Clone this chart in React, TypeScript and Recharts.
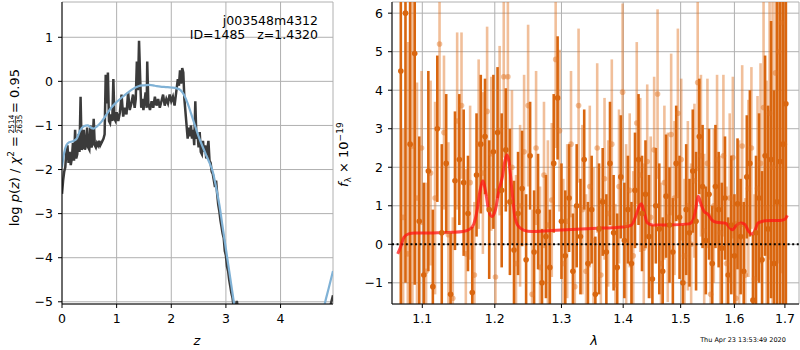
import React from "react"
import {
  ComposedChart,
  Line,
  Scatter,
  ErrorBar,
  XAxis,
  YAxis,
  CartesianGrid,
  ReferenceLine,
} from "recharts"

const FONT = "DejaVu Sans, Verdana, sans-serif"

// left panel: redshift grid
const zTicks = [0, 1, 2, 3, 4]
const pzTicks = [-5, -4, -3, -2, -1, 0, 1]

// log p(z), noisy fit
const pzRaw: [number, number][] = [
  [0.0, -2.55], [0.02, -2.25], [0.04, -2.05], [0.06, -1.95], [0.08, -1.6], [0.1, -1.45],
  [0.12, -1.85], [0.14, -1.6], [0.16, -1.9], [0.18, -1.75], [0.2, -1.4], [0.22, -1.8],
  [0.24, -1.1], [0.26, -1.75], [0.28, -1.65], [0.3, -1.2], [0.32, -1.6], [0.34, -0.35],
  [0.36, -1.55], [0.38, -1.5], [0.4, -1.1], [0.42, -1.55], [0.44, -1.45], [0.46, -1.05],
  [0.48, -1.5], [0.5, -1.55], [0.52, -1.0], [0.54, -1.5], [0.56, -1.4], [0.58, -0.85],
  [0.6, -1.45], [0.62, -1.5], [0.64, -1.4], [0.66, -1.45], [0.68, -1.35], [0.7, -1.45],
  [0.72, -1.4], [0.74, -1.35], [0.76, -1.3], [0.78, -1.2], [0.8, 0.15], [0.82, -0.5],
  [0.84, 0.2], [0.86, -0.9], [0.88, -0.95], [0.9, -0.75], [0.92, -0.9], [0.94, 0.05],
  [0.96, -0.85], [0.98, -0.9], [1.0, -0.7], [1.03, -0.9], [1.06, -0.7], [1.09, -0.3],
  [1.12, -0.8], [1.15, -0.6], [1.18, -0.75], [1.21, -0.25], [1.24, -0.65], [1.27, -0.5],
  [1.3, -0.3], [1.33, -0.6], [1.35, -0.4], [1.37, 0.45], [1.39, -0.2], [1.41, 0.92],
  [1.43, 0.1], [1.45, -0.6], [1.47, -0.4], [1.49, -0.65], [1.51, -0.45], [1.53, -0.25],
  [1.55, -0.6], [1.56, 0.45], [1.58, -0.5], [1.61, -0.65], [1.64, -0.45], [1.67, -0.6],
  [1.7, -0.35], [1.73, -0.55], [1.76, -0.4], [1.79, -0.6], [1.82, -0.45], [1.85, -0.3],
  [1.88, -0.55], [1.91, -0.4], [1.94, -0.5], [1.97, -0.3], [2.0, -0.45], [2.03, -0.35],
  [2.06, -0.55], [2.09, -0.25], [2.12, 0.05], [2.14, -0.1], [2.16, 0.25], [2.18, -0.05],
  [2.2, 0.3], [2.22, 0.2], [2.24, -0.4], [2.26, -0.7], [2.28, -1.0], [2.3, -1.3],
  [2.32, -1.05], [2.34, -1.25], [2.36, -1.0], [2.38, -1.3], [2.4, -1.1], [2.42, -1.45],
  [2.44, -0.45], [2.46, -1.3], [2.48, -1.2], [2.5, -1.5], [2.52, -1.15], [2.54, -1.6],
  [2.56, -1.65], [2.58, -1.35], [2.6, -1.6], [2.62, -1.45], [2.64, -1.75], [2.66, -1.55],
  [2.68, -1.35], [2.7, -1.8], [2.72, -1.85], [2.74, -2.05], [2.76, -2.1], [2.78, -2.25],
  [2.8, -2.4], [2.82, -2.25], [2.84, -2.55], [2.86, -2.8], [2.88, -2.95], [2.9, -3.15],
  [2.92, -3.3], [2.94, -3.45], [2.96, -3.55], [2.98, -3.85], [3.0, -3.95], [3.02, -4.2],
  [3.04, -4.3], [3.06, -4.5], [3.08, -4.65], [3.1, -4.8], [3.12, -4.9], [3.14, -5.1],
  [3.16, -5.2], [3.18, -5.1], [3.2, -4.98], [3.22, -5.15], [3.26, -5.6], [3.4, -6.8],
  [3.8, -8.5], [4.3, -8.8], [4.7, -6.5], [4.85, -5.4], [4.9, -5.15], [4.93, -5.0],
  [4.96, -4.85],
]

// log p(z), smooth prior-weighted curve
const pzSmooth: [number, number][] = [
  [0.0, -1.95], [0.04, -1.62], [0.08, -1.45], [0.13, -1.38], [0.2, -1.36], [0.27, -1.3],
  [0.33, -1.12], [0.4, -1.02], [0.47, -1.0], [0.53, -1.05], [0.58, -1.07], [0.64, -1.02],
  [0.72, -0.92], [0.8, -0.78], [0.9, -0.6], [1.0, -0.47], [1.1, -0.36], [1.2, -0.26],
  [1.3, -0.17], [1.4, -0.11], [1.5, -0.09], [1.6, -0.08], [1.7, -0.1], [1.8, -0.12],
  [1.9, -0.13], [2.0, -0.14], [2.1, -0.16], [2.17, -0.2], [2.23, -0.3], [2.3, -0.5],
  [2.36, -0.72], [2.42, -0.95], [2.5, -1.25], [2.58, -1.5], [2.64, -1.68], [2.7, -1.85],
  [2.76, -2.05], [2.82, -2.4], [2.88, -2.8], [2.94, -3.3], [3.0, -3.8], [3.06, -4.3],
  [3.12, -4.8], [3.18, -5.3], [3.3, -6.3], [3.6, -8.0], [4.0, -9.0], [4.4, -8.0],
  [4.7, -5.9], [4.8, -5.1], [4.88, -4.7], [4.96, -4.3],
]

// right panel: spectrum
const lamTicks = [1.1, 1.2, 1.3, 1.4, 1.5, 1.6, 1.7]
const fluxTicks = [-1, 0, 1, 2, 3, 4, 5, 6]

// [lambda, flux, error] first beam
const specA: [number, number, number][] = [
  [1.072, 4.5, 6.5], [1.078, 6.0, 7.0], [1.084, 2.6, 6.5], [1.09, 4.95, 6.0], [1.096, 0.6, 2.2],
  [1.102, -0.8, 2.4], [1.108, 1.9, 2.6], [1.114, -1.1, 2.0], [1.12, 3.0, 1.9], [1.126, 0.3, 2.3],
  [1.132, 2.1, 1.8], [1.138, -1.3, 1.6], [1.144, 1.65, 1.8], [1.15, 2.2, 1.7], [1.156, 1.6, 1.9],
  [1.162, 0.8, 1.5], [1.168, -1.25, 1.7], [1.174, 1.8, 1.6], [1.18, 2.6, 1.8], [1.186, 2.8, 1.5],
  [1.192, 0.9, 1.8], [1.198, 2.4, 2.0], [1.204, 2.9, 1.7], [1.21, 1.4, 2.0], [1.216, 2.45, 1.6],
  [1.222, 1.1, 1.9], [1.228, -0.15, 1.8], [1.234, 0.8, 1.6], [1.24, 1.45, 1.5], [1.246, -0.4, 1.7],
  [1.252, 2.3, 1.4], [1.258, -0.2, 1.6], [1.264, 0.85, 1.5], [1.27, -1.0, 1.4], [1.276, 0.2, 1.6],
  [1.282, -0.6, 1.5], [1.288, 2.1, 1.8], [1.294, 3.8, 1.6], [1.3, 0.6, 1.5], [1.306, -0.3, 1.7],
  [1.312, 1.2, 1.4], [1.318, -0.7, 1.5], [1.324, 1.0, 1.6], [1.33, 0.2, 1.5], [1.336, 2.2, 1.3],
  [1.342, -0.5, 1.6], [1.348, 0.9, 1.4], [1.354, -1.3, 1.5], [1.36, 0.4, 1.7], [1.366, 1.1, 1.4],
  [1.372, -0.2, 1.5], [1.378, 2.1, 1.6], [1.384, 0.3, 1.5], [1.39, -0.6, 1.4], [1.396, 1.75, 1.6],
  [1.402, 0.1, 1.5], [1.408, 0.9, 1.4], [1.414, -0.5, 1.6], [1.42, 1.4, 1.5], [1.426, 2.2, 1.7],
  [1.432, 0.8, 1.5], [1.438, 1.3, 1.4], [1.444, 0.2, 1.6], [1.45, -0.9, 1.4], [1.456, 1.0, 1.5],
  [1.462, 0.4, 1.7], [1.468, -0.7, 1.4], [1.474, 1.25, 1.6], [1.48, 0.5, 1.5], [1.486, -0.2, 1.4],
  [1.492, 2.1, 1.5], [1.498, 0.7, 1.6], [1.504, -1.0, 1.5], [1.51, 0.9, 1.7], [1.516, 0.3, 1.4],
  [1.522, 1.9, 1.6], [1.528, 0.6, 1.8], [1.534, 2.8, 1.5], [1.54, 1.5, 1.6], [1.546, 0.1, 1.4],
  [1.552, 1.3, 1.7], [1.558, -0.5, 1.5], [1.564, 1.5, 1.6], [1.57, 0.9, 1.5], [1.576, -0.1, 1.7],
  [1.582, 1.2, 1.6], [1.588, -0.8, 1.5], [1.594, 0.5, 1.8], [1.6, -0.3, 1.6], [1.606, 1.05, 1.7],
  [1.612, 0.2, 1.5], [1.618, -0.7, 1.8], [1.624, 1.75, 1.6], [1.63, 2.1, 1.9], [1.636, -1.45, 1.7],
  [1.642, 0.3, 2.0], [1.648, 1.2, 2.2], [1.654, -0.4, 2.3], [1.66, 2.3, 2.6], [1.666, 0.4, 3.2],
  [1.672, 2.2, 3.6], [1.678, -0.5, 4.5], [1.684, 1.1, 5.5], [1.69, 2.15, 6.5], [1.696, 2.6, 7.5],
  [1.702, 3.65, 8.0],
]

// [lambda, flux, error] second beam
const specB: [number, number, number][] = [
  [1.075, 0.7, 2.3], [1.081, -0.25, 5.5], [1.087, 2.55, 6.0], [1.093, 1.2, 3.0], [1.099, 2.5, 2.0],
  [1.105, -0.7, 2.3], [1.111, 1.85, 2.4], [1.117, 1.2, 2.5], [1.123, 5.2, 2.2], [1.129, 2.9, 2.0],
  [1.135, 0.25, 2.4], [1.141, -1.4, 2.1], [1.147, 3.2, 2.3], [1.153, 3.6, 1.9], [1.159, -0.25, 2.2],
  [1.165, 1.6, 2.0], [1.171, -0.8, 1.9], [1.177, 2.6, 2.2], [1.183, 1.85, 2.1], [1.189, 3.45, 2.2],
  [1.195, 2.35, 2.0], [1.201, -0.85, 2.3], [1.207, 2.95, 2.2], [1.213, 4.35, 2.1], [1.219, 4.35, 2.2],
  [1.225, 2.0, 2.0], [1.231, -0.5, 2.3], [1.237, 1.0, 2.1], [1.243, 2.4, 2.0], [1.249, 3.6, 2.1],
  [1.255, -1.3, 2.2], [1.261, 2.5, 2.0], [1.267, -0.6, 2.1], [1.273, 1.8, 1.9], [1.279, 0.5, 2.2],
  [1.285, 1.15, 2.0], [1.291, 4.8, 2.3], [1.297, 2.95, 2.1], [1.303, -0.5, 2.2], [1.309, 0.6, 2.0],
  [1.315, 2.6, 1.9], [1.321, -1.1, 2.1], [1.327, 3.6, 2.0], [1.333, 0.9, 2.2], [1.339, -0.7, 2.0],
  [1.345, 1.5, 2.1], [1.351, 0.1, 1.9], [1.357, 2.5, 2.2], [1.363, -0.8, 2.0], [1.369, 1.7, 2.1],
  [1.375, 0.8, 1.9], [1.381, 2.6, 2.2], [1.387, -1.05, 2.1], [1.393, 1.5, 2.0], [1.399, 3.95, 2.3],
  [1.405, 0.5, 2.1], [1.411, 1.4, 2.0], [1.417, -0.3, 2.2], [1.423, 3.15, 2.1], [1.429, 1.8, 2.0],
  [1.435, -0.1, 2.2], [1.441, 2.15, 2.0], [1.447, 0.7, 2.1], [1.453, 2.45, 1.9], [1.459, 3.9, 2.2],
  [1.465, -0.5, 2.1], [1.471, 1.6, 2.0], [1.477, 0.7, 2.2], [1.483, 2.85, 2.1], [1.489, 1.2, 2.0],
  [1.495, 3.4, 2.2], [1.501, 2.2, 2.1], [1.507, -0.3, 2.0], [1.513, 1.0, 2.2], [1.519, 0.0, 2.1],
  [1.525, 1.65, 2.0], [1.531, 4.2, 2.3], [1.537, 2.3, 2.1], [1.543, 0.35, 2.0], [1.549, 2.1, 2.2],
  [1.555, -1.3, 2.1], [1.561, 1.0, 2.0], [1.567, 2.2, 2.2], [1.573, 0.3, 2.0], [1.579, 2.3, 2.1],
  [1.585, -0.5, 2.0], [1.591, 1.2, 2.2], [1.597, 2.25, 2.1], [1.603, -1.4, 2.0], [1.609, 0.5, 2.2],
  [1.615, 2.55, 2.1], [1.621, -0.8, 2.0], [1.627, 1.45, 2.3], [1.633, 2.5, 2.1], [1.639, -0.9, 2.2],
  [1.645, 1.45, 2.4], [1.651, 2.1, 2.6], [1.657, 3.55, 3.0], [1.663, 0.95, 3.3], [1.669, 3.4, 3.8],
  [1.675, 2.0, 4.5], [1.681, 4.45, 5.0], [1.687, 5.0, 5.5], [1.693, 5.75, 6.5], [1.699, 2.6, 7.0],
]

// best-fit template
const model: [number, number][] = [
  [1.068, -0.25], [1.072, -0.05], [1.076, 0.18], [1.082, 0.27], [1.09, 0.29], [1.1, 0.29],
  [1.12, 0.3], [1.14, 0.31], [1.155, 0.33], [1.165, 0.4], [1.17, 0.52], [1.175, 0.9],
  [1.179, 1.4], [1.183, 1.65], [1.187, 1.35], [1.191, 0.9], [1.196, 0.72], [1.201, 0.9],
  [1.206, 1.4], [1.211, 1.75], [1.215, 2.2], [1.218, 2.32], [1.221, 2.1], [1.225, 1.4],
  [1.229, 0.75], [1.234, 0.48], [1.242, 0.37], [1.255, 0.33], [1.28, 0.35], [1.3, 0.37],
  [1.35, 0.41], [1.4, 0.45], [1.414, 0.5], [1.421, 0.72], [1.427, 0.98], [1.431, 1.05],
  [1.436, 0.82], [1.441, 0.56], [1.45, 0.5], [1.48, 0.5], [1.515, 0.53], [1.522, 0.62],
  [1.527, 0.88], [1.532, 1.25], [1.537, 1.05], [1.543, 0.85], [1.55, 0.78], [1.558, 0.62],
  [1.566, 0.57], [1.583, 0.55], [1.59, 0.45], [1.596, 0.38], [1.603, 0.48], [1.612, 0.55],
  [1.62, 0.52], [1.627, 0.35], [1.633, 0.27], [1.639, 0.33], [1.646, 0.55], [1.66, 0.61],
  [1.69, 0.62], [1.7, 0.65], [1.705, 0.75],
]

const pzRawData = pzRaw.map(([z, v]) => ({ z, v }))
const pzSmoothData = pzSmooth.map(([z, v]) => ({ z, v }))
const specAData = specA.map(([lam, f, e]) => ({ lam, f, e }))
const specBData = specB.map(([lam, f, e]) => ({ lam, f, e }))
const modelData = model.map(([lam, f]) => ({ lam, f }))

const minus = (v: number) => (v < 0 ? `\u2212${Math.abs(v)}` : `${v}`)
const tickStyle = { fill: "#000", fontSize: 12.5, fontFamily: FONT }
const black = { stroke: "#000" }
const GRID = "#b0b0b0"

const ORANGE = "#d9660f"
const ORANGE_LIGHT = "rgba(225,112,30,0.45)"

// plot box of the spectrum panel, in its own svg coordinates
const SPEC_W = 460
const SPEC_H = 350
const SPEC_MARGIN = { top: 2, right: 1, bottom: 16, left: 0 }
const SPEC_YAXIS_W = 52
const SPEC_XAXIS_H = 30

function Dot(fill: string) {
  return (p: any) => <circle cx={p.cx} cy={p.cy} r={2.8} fill={fill} />
}

function PzPanel() {
  return (
    <ComposedChart
      width={340}
      height={350}
      margin={{ top: 2, right: 7, bottom: 16, left: 0 }}
    >
      <CartesianGrid stroke={GRID} strokeWidth={1} />
      <XAxis
        dataKey="z"
        type="number"
        domain={[0, 4.96]}
        ticks={zTicks}
        allowDataOverflow
        height={30}
        tickSize={4}
        tickMargin={6}
        axisLine={black}
        tickLine={black}
        tick={tickStyle}
      />
      <XAxis xAxisId="top" orientation="top" type="number" domain={[0, 4.96]} height={0} tick={false} tickLine={false} axisLine={black} />
      <YAxis
        dataKey="v"
        type="number"
        domain={[-5.05, 1.8]}
        ticks={pzTicks}
        allowDataOverflow
        width={62}
        tickSize={4}
        tickMargin={5}
        axisLine={black}
        tickLine={black}
        tick={tickStyle}
        tickFormatter={minus}
      />
      <YAxis yAxisId="right" orientation="right" type="number" domain={[-5.05, 1.8]} width={0} tick={false} tickLine={false} axisLine={black} />
      <Line
        data={pzRawData}
        dataKey="v"
        type="linear"
        stroke="#3b3b3b"
        strokeWidth={2.5}
        dot={false}
        activeDot={false}
        isAnimationActive={false}
      />
      <Line
        data={pzSmoothData}
        dataKey="v"
        type="monotone"
        stroke="#80b2d6"
        strokeWidth={2.2}
        dot={false}
        activeDot={false}
        isAnimationActive={false}
      />
    </ComposedChart>
  )
}

function SpecPanel() {
  const clipX = SPEC_MARGIN.left + SPEC_YAXIS_W
  const clipY = SPEC_MARGIN.top
  const clipW = SPEC_W - clipX - SPEC_MARGIN.right
  const clipH = SPEC_H - SPEC_MARGIN.top - SPEC_MARGIN.bottom - SPEC_XAXIS_H
  return (
    <div className="spec-panel">
      <style>{`
        .spec-panel .recharts-scatter,
        .spec-panel [class*="errorBar"],
        .spec-panel [class*="error-bar"] { clip-path: url(#spec-clip); }
      `}</style>
      <svg width={0} height={0} style={{ position: "absolute" }}>
        <defs>
          <clipPath id="spec-clip" clipPathUnits="userSpaceOnUse">
            <rect x={clipX} y={clipY} width={clipW} height={clipH} />
          </clipPath>
        </defs>
      </svg>
      <ComposedChart width={SPEC_W} height={SPEC_H} margin={SPEC_MARGIN}>
        <XAxis
          dataKey="lam"
          type="number"
          scale="log"
          domain={[1.0607, 1.729]}
          ticks={lamTicks}
          allowDataOverflow
          height={SPEC_XAXIS_H}
          tickSize={4}
          tickMargin={6}
          axisLine={black}
          tickLine={black}
          tick={tickStyle}
          tickFormatter={(v: number) => v.toFixed(1)}
        />
        <XAxis xAxisId="top" orientation="top" type="number" scale="log" domain={[1.0607, 1.729]} height={0} tick={false} tickLine={false} axisLine={black} />
        <YAxis
          dataKey="f"
          type="number"
          domain={[-1.55, 6.29]}
          ticks={fluxTicks}
          allowDataOverflow
          width={SPEC_YAXIS_W}
          tickSize={4}
          tickMargin={5}
          axisLine={black}
          tickLine={black}
          tick={tickStyle}
          tickFormatter={minus}
        />
        <YAxis yAxisId="right" orientation="right" type="number" domain={[-1.55, 6.29]} width={0} tick={false} tickLine={false} axisLine={black} />
        <Scatter data={specBData} shape={Dot(ORANGE_LIGHT)} isAnimationActive={false}>
          <ErrorBar dataKey="e" direction="y" width={0} stroke={ORANGE_LIGHT} strokeWidth={2.6} clipPath="url(#spec-clip)" />
        </Scatter>
        <Scatter data={specAData} shape={Dot(ORANGE)} isAnimationActive={false}>
          <ErrorBar dataKey="e" direction="y" width={0} stroke={ORANGE} strokeWidth={2.6} clipPath="url(#spec-clip)" />
        </Scatter>
        <CartesianGrid stroke={GRID} strokeWidth={1} />
        <ReferenceLine y={0} stroke="#000" strokeWidth={2} strokeDasharray="2 2.6" />
        <Line
          data={modelData}
          dataKey="f"
          type="monotone"
          stroke="rgba(255,20,20,0.75)"
          strokeWidth={3}
          dot={false}
          activeDot={false}
          isAnimationActive={false}
        />
      </ComposedChart>
    </div>
  )
}

function Labels() {
  return (
    <svg
      width={800}
      height={350}
      style={{ position: "absolute", left: 0, top: 0, pointerEvents: "none" }}
      fontFamily={FONT}
      fill="#000"
    >
      <text x={318} y={25} fontSize={12.5} textAnchor="end">j003548m4312</text>
      <text x={318} y={39} fontSize={12.5} textAnchor="end" style={{ whiteSpace: "pre" }}>
        ID=1485   z=1.4320
      </text>
      <text x={197} y={345} fontSize={13} fontStyle="italic" textAnchor="middle">z</text>
      <text x={594} y={345} fontSize={13} fontStyle="italic" textAnchor="middle">λ</text>
      <text x={743} y={342} fontSize={6.5} textAnchor="middle">Thu Apr 23 13:53:49 2020</text>

      <g transform="translate(19,240) rotate(-90)" fontSize={13}>
        <text x={104} y={0} textAnchor="end">
          log <tspan fontStyle="italic">p</tspan>(<tspan fontStyle="italic">z</tspan>) / <tspan fontStyle="italic">χ</tspan>
          <tspan dy={-5} fontSize={9}>2</tspan>
          <tspan dy={5}> =</tspan>
        </text>
        <text x={116} y={-4.8} fontSize={7.5} textAnchor="middle">2514</text>
        <line x1={108} x2={124} y1={-3.6} y2={-3.6} stroke="#000" strokeWidth={0.7} />
        <text x={116} y={3} fontSize={7.5} textAnchor="middle">2635</text>
        <text x={127} y={0} textAnchor="start">= 0.95</text>
      </g>

      <g transform="translate(348,187) rotate(-90)" fontSize={13}>
        <text x={0} y={0}>
          <tspan fontStyle="italic">f</tspan>
          <tspan dy={3} fontSize={9}>λ</tspan>
          <tspan dy={-3}> × 10</tspan>
          <tspan dy={-5} fontSize={9}>−19</tspan>
        </text>
      </g>
    </svg>
  )
}

export default function App() {
  return (
    <div
      style={{
        position: "absolute",
        left: 0,
        top: 0,
        width: 800,
        height: 350,
        background: "#fff",
        overflow: "hidden",
      }}
    >
      <div style={{ position: "absolute", left: 0, top: 0 }}>
        <PzPanel />
      </div>
      <div style={{ position: "absolute", left: 340, top: 0 }}>
        <SpecPanel />
      </div>
      <Labels />
    </div>
  )
}
